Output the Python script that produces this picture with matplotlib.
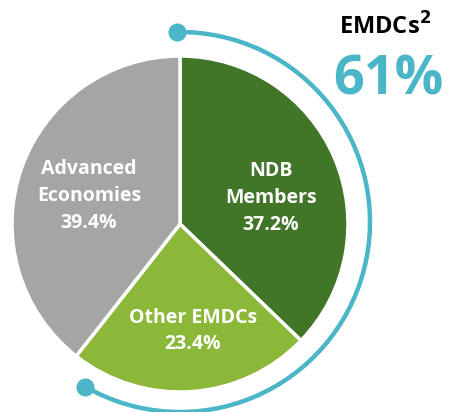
import numpy as np
import matplotlib
matplotlib.use("Agg")
import matplotlib.pyplot as plt
from matplotlib.patches import Arc

# data
labels = ["NDB\nMembers", "Other EMDCs", "Advanced\nEconomies"]
shares = [37.2, 23.4, 39.4]
colors = ["#417629", "#8CB83A", "#A5A5A5"]
emdc_total = 61

W, H = 449, 412
fig = plt.figure(figsize=(W / 100, H / 100), dpi=100)
ax = fig.add_axes([0, 0, 1, 1])

cx, cy, r = 180, 188, 168
ax.pie(shares, startangle=90, counterclock=False, center=(cx, cy), radius=r,
       colors=colors, wedgeprops=dict(edgecolor="white", linewidth=2.5))

ax.set_xlim(0, W)
ax.set_ylim(0, H)
ax.set_aspect("equal")
ax.axis("off")

# labels inside slices
font = "Open Sans"
kw = dict(color="white", fontsize=14, fontweight="bold", family=font,
          ha="center", va="center", linespacing=1.45)
ax.text(271, H - 198, f"NDB\nMembers\n{shares[0]}%", **kw)
ax.text(193, H - 331, f"Other EMDCs\n{shares[1]}%", **kw)
ax.text(89, H - 196, f"Advanced\nEconomies\n{shares[2]}%", **kw)

# teal arc around EMDCs share
teal = "#4BB6C7"
ar = 190
a1, a2 = -120, 91
ax.add_patch(Arc((cx, cy + 2), 2 * ar, 2 * ar, theta1=a1, theta2=a2,
                 color=teal, linewidth=3.2))
for a in (a1, a2):
    ax.plot(cx + ar * np.cos(np.radians(a)), cy + 2 + ar * np.sin(np.radians(a)),
            "o", color=teal, markersize=12)

ax.text(385, H - 27, "EMDCs$^{\\mathbf{2}}$", color="black", fontsize=17,
        fontweight="bold", family=font, ha="center", va="center")
ax.text(388, H - 80, f"{emdc_total}%", color=teal, fontsize=39,
        fontweight="bold", family=font, ha="center", va="center")

fig.savefig("out.png", dpi=100)
